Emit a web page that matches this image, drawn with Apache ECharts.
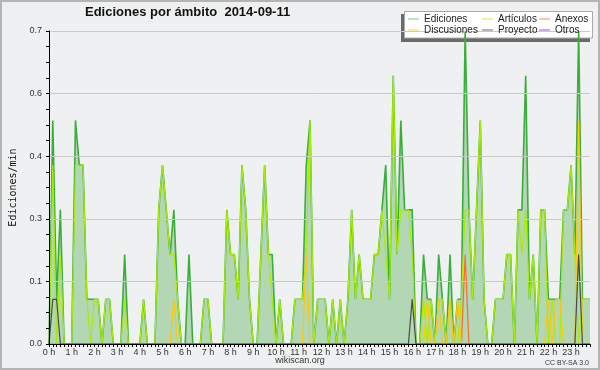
<!DOCTYPE html>
<html>
<head>
<meta charset="utf-8">
<script src="https://cdn.jsdelivr.net/npm/echarts@6/dist/echarts.min.js"></script>
<style>html,body{margin:0;padding:0;background:#eff0f1;}#c{width:600px;height:370px;}</style>
</head>
<body>
<div id="c"></div>
<script>
// 10-minute buckets (144 per day), edits per minute
const hourLabels = ['0 h','1 h','2 h','3 h','4 h','5 h','6 h','7 h','8 h','9 h','10 h','11 h','12 h','13 h','14 h','15 h','16 h','17 h','18 h','19 h','20 h','21 h','22 h','23 h'];
const seriesNames = ['Ediciones','Artículos','Anexos','Discusiones','Proyecto','Otros'];

const ediciones = [
  0,0.5,0.1,0.3,0,0,
  0,0.5,0.4,0.4,0.1,0.1,
  0.1,0.1,0,0.1,0.1,0,
  0,0,0.2,0,0,0,
  0,0.1,0,0,0,0.3,
  0.4,0.3,0.2,0.3,0.1,0,
  0,0.2,0,0,0,0.1,
  0.1,0,0,0,0,0.3,
  0.2,0.2,0.1,0.4,0.3,0.1,
  0,0,0.2,0.4,0.2,0.2,
  0,0.1,0,0,0,0.1,
  0.1,0.1,0.4,0.5,0,0.1,
  0.1,0.1,0,0.1,0,0.1,
  0,0.1,0.3,0.1,0.2,0.1,
  0.1,0.1,0.2,0.2,0.3,0.4,
  0.1,0.6,0.2,0.5,0.3,0.3,
  0.3,0,0,0.2,0.1,0.1,
  0,0.2,0.1,0,0.2,0,
  0.1,0.1,0.7,0.3,0.1,0.3,
  0.5,0.1,0,0,0.1,0.1,
  0.1,0.2,0.2,0,0.3,0.3,
  0.6,0.1,0.2,0,0.3,0.3,
  0.1,0.1,0.1,0.1,0.3,0.3,
  0.4,0.2,0.7,0.1,0.1,0.1
];
const articulos = [
  0,0.4,0,0.2,0,0,
  0,0.4,0.4,0.4,0.1,0,
  0.1,0.1,0,0.1,0.1,0,
  0,0,0.1,0,0,0,
  0,0.1,0,0,0,0.3,
  0.4,0.3,0.2,0.2,0.1,0,
  0,0,0,0,0,0.1,
  0.1,0,0,0,0,0.3,
  0.2,0.2,0.1,0.4,0.3,0.1,
  0,0,0.2,0.4,0.2,0.1,
  0,0.1,0,0,0,0.1,
  0.1,0.1,0.2,0.5,0,0.1,
  0.1,0.1,0,0.1,0,0.1,
  0,0.1,0.3,0.1,0.2,0.1,
  0.1,0.1,0.2,0.2,0.3,0.2,
  0.1,0.6,0.2,0.3,0.3,0.3,
  0.2,0,0,0.1,0,0.1,
  0,0.1,0.1,0,0.1,0,
  0,0.1,0.3,0.3,0.1,0.3,
  0.5,0.1,0,0,0.1,0.1,
  0.1,0.2,0.2,0,0.3,0.2,
  0.3,0.1,0.2,0,0.3,0.3,
  0,0.1,0,0,0.3,0.3,
  0.4,0.2,0,0.1,0.1,0.1
];
const anexos = [
  0,0,0,0,0,0, 0,0,0,0,0,0, 0,0,0,0,0,0, 0,0,0,0,0,0,
  0,0,0,0,0,0, 0,0,0,0,0,0, 0,0,0,0,0,0, 0,0,0,0,0,0,
  0,0,0,0,0,0, 0,0,0,0,0,0, 0,0,0,0,0,0, 0,0,0,0,0,0,
  0,0,0,0,0,0, 0,0,0,0,0,0, 0,0,0,0,0,0, 0,0,0,0,0,0,
  0,0,0,0,0,0, 0,0,0,0,0,0, 0,0,0.2,0,0,0, 0,0,0,0,0,0,
  0,0,0,0,0,0, 0,0,0,0,0,0, 0,0,0,0,0,0, 0,0,0,0,0,0
];
const discusiones = [
  0,0,0,0,0,0, 0,0,0,0,0,0, 0,0,0,0,0,0, 0,0,0,0,0,0,
  0,0,0,0,0,0, 0,0,0,0.1,0,0, 0,0,0,0,0,0, 0,0,0,0,0,0,
  0,0,0,0,0,0, 0,0,0,0,0,0, 0,0,0,0,0,0, 0,0,0.2,0,0,0,
  0,0,0,0,0,0, 0,0,0,0,0,0, 0,0,0,0,0,0, 0,0,0,0,0,0,
  0,0,0,0,0.1,0, 0,0.1,0,0,0.1,0, 0.1,0,0,0,0,0, 0,0,0,0,0,0,
  0,0,0,0,0,0, 0,0,0,0,0,0, 0.1,0,0.1,0.1,0,0, 0,0,0.5,0,0,0
];
const proyecto = [
  0,0.1,0.1,0,0,0, 0,0,0,0,0,0, 0,0,0,0,0,0, 0,0,0,0,0,0,
  0,0,0,0,0,0, 0,0,0,0,0,0, 0,0,0,0,0,0, 0,0,0,0,0,0,
  0,0,0,0,0,0, 0,0,0,0,0,0, 0,0,0,0,0,0, 0,0,0,0,0,0,
  0,0,0,0,0,0, 0,0,0,0,0,0, 0,0,0,0,0,0, 0,0,0,0,0,0,
  0.1,0,0,0,0,0, 0,0,0,0,0,0, 0,0,0,0,0,0, 0,0,0,0,0,0,
  0,0,0,0,0,0, 0,0,0,0,0,0, 0,0,0,0,0,0, 0,0,0.2,0,0,0
];
const otros = [
  0,0,0,0,0,0, 0,0,0,0,0,0, 0,0,0,0,0,0, 0,0,0,0,0,0,
  0,0,0,0,0,0, 0,0,0,0,0,0, 0,0,0,0,0,0, 0,0,0,0,0,0,
  0,0,0,0,0,0, 0,0,0,0,0,0, 0,0,0,0,0,0, 0,0,0,0,0,0,
  0,0,0,0,0,0, 0,0,0,0,0,0, 0,0,0,0,0,0, 0,0,0,0,0,0,
  0,0,0,0,0,0, 0,0,0,0,0,0, 0,0,0,0,0,0, 0,0,0,0,0,0,
  0,0,0,0,0,0, 0,0,0,0,0,0, 0,0,0,0,0,0, 0,0,0,0,0,0
];

const colors = {
  'Ediciones': '#3aae3a',
  'Artículos': '#a8ec00',
  'Anexos': '#ff6a2a',
  'Discusiones': '#ffc800',
  'Proyecto': '#4a4a4a',
  'Otros': '#9a3cf0'
};
const legendColors = {
  'Ediciones': '#7ccf7c',
  'Artículos': '#c4ee4c',
  'Anexos': '#ff8a5a',
  'Discusiones': '#ffd040',
  'Proyecto': '#666666',
  'Otros': '#a050f0'
};
const values = {
  'Ediciones': ediciones, 'Artículos': articulos, 'Anexos': anexos,
  'Discusiones': discusiones, 'Proyecto': proyecto, 'Otros': otros
};
const drawOrder = ['Ediciones','Artículos','Otros','Anexos','Discusiones','Proyecto'];

const series = drawOrder.map((name, k) => {
  const s = {
    name: name,
    type: 'line',
    symbol: 'none',
    data: values[name].map((v, i) => [i, v]),
    lineStyle: { color: colors[name], width: name === 'Ediciones' ? 1.6 : 1.2 },
    itemStyle: { color: legendColors[name] },
    z: 2 + k * 0.01
  };
  if (name === 'Ediciones') {
    s.areaStyle = { color: 'rgba(70,166,70,0.5)' };
  }
  return s;
});

const legendPos = [
  ['Ediciones', 408, 14], ['Artículos', 482, 14], ['Anexos', 539, 14],
  ['Discusiones', 408, 25], ['Proyecto', 482, 25], ['Otros', 539, 25]
];
const legends = legendPos.map(p => ({
  data: [p[0]], left: p[1], top: p[2], padding: 0,
  icon: 'rect', itemWidth: 11, itemHeight: 1, itemGap: 0,
  selectedMode: false, z: 6,
  textStyle: { fontFamily: 'Liberation Sans', fontSize: 10, color: '#222', padding: [0,0,0,0] }
}));

const chart = echarts.init(document.getElementById('c'), null, { renderer: 'canvas' });
chart.setOption({
  animation: false,
  backgroundColor: '#eff0f1',
  title: {
    text: 'Ediciones por ámbito  2014-09-11',
    left: 85, top: 6, padding: 0,
    textStyle: { fontFamily: 'Liberation Sans', fontWeight: 'bold', fontSize: 13, color: '#111' }
  },
  legend: legends,
  grid: { left: 46, right: 10, top: 31, bottom: 26, containLabel: false },
  xAxis: {
    type: 'value', min: 0, max: 143, interval: 1, z: 3,
    axisLine: { show: true, lineStyle: { color: '#000', width: 1 } },
    axisTick: { show: true, length: 3, lineStyle: { color: '#000' } },
    splitLine: { show: false },
    axisLabel: {
      formatter: v => (v % 6 === 0 ? hourLabels[v / 6] : ''),
      fontFamily: 'Liberation Sans', fontSize: 9, color: '#333', margin: 4
    }
  },
  yAxis: {
    type: 'value', min: 0, max: 0.7, interval: 0.14, z: 3,
    name: 'Ediciones/min', nameLocation: 'middle', nameGap: 31,
    nameTextStyle: { fontFamily: 'DejaVu Sans Mono', fontSize: 10, color: '#111' },
    axisLine: { show: true, lineStyle: { color: '#000', width: 1 } },
    axisTick: { show: true, length: 3, lineStyle: { color: '#000' } },
    minorTick: { show: true, splitNumber: 4, length: 3, lineStyle: { color: '#000' } },
    splitLine: { show: true, lineStyle: { color: '#c8c8c8', width: 1 } },
    axisLabel: {
      formatter: v => v.toFixed(1),
      fontFamily: 'Liberation Sans', fontSize: 9, color: '#333', margin: 7
    }
  },
  graphic: [
    { type: 'rect', z: 100, silent: true, shape: { x: 1, y: 1, width: 598, height: 368 },
      style: { fill: 'none', stroke: '#b4b4b4', lineWidth: 2 } },
    { type: 'rect', z: 1, silent: true, shape: { x: 401, y: 14, width: 189, height: 28 },
      style: { fill: '#6a6a6a' } },
    { type: 'rect', z: 1, silent: true, shape: { x: 404.5, y: 11.5, width: 188, height: 26.5 },
      style: { fill: '#ffffff', stroke: '#aaaaaa', lineWidth: 1 } },
    { type: 'text', z: 5, silent: true, x: 300, y: 361,
      style: { text: 'wikiscan.org', fontFamily: 'Liberation Sans', fontSize: 9, fill: '#333', align: 'center', verticalAlign: 'middle' } },
    { type: 'text', z: 5, silent: true, x: 589, y: 363,
      style: { text: 'CC BY-SA 3.0', fontFamily: 'Liberation Sans', fontSize: 7, fill: '#333', align: 'right', verticalAlign: 'middle' } }
  ],
  series: series
});
</script>
</body>
</html>
